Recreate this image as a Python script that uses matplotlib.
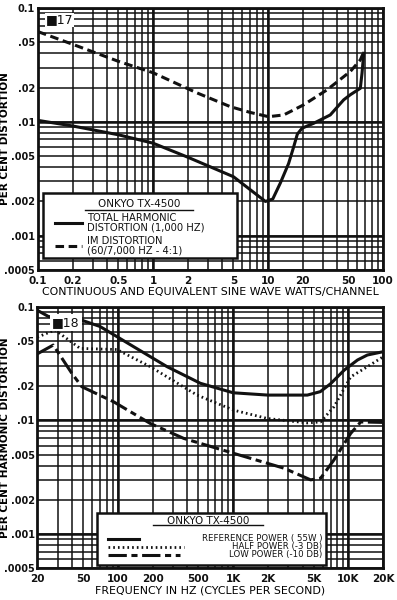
import numpy as np
import matplotlib
matplotlib.use('Agg')
import matplotlib.pyplot as plt
from matplotlib.ticker import LogLocator, FixedLocator, FixedFormatter, NullFormatter
from matplotlib.lines import Line2D
from matplotlib.patches import Rectangle

# Fig. 17: distortion vs power output (watts/channel)
thd_watts = [0.1, 0.2, 0.5, 1, 2, 5, 9.5, 11, 12.8, 15.1, 16.7, 18, 19.8, 24.9, 34.8, 45.5, 52, 63.5, 65.7, 68]
thd_pct = [0.0103, 0.0092, 0.0077, 0.0065, 0.0049, 0.0033, 0.0020, 0.0021, 0.0029, 0.0043, 0.0060, 0.0078, 0.0088,
           0.0097, 0.0115, 0.0156, 0.0173, 0.0197, 0.0267, 0.040]
imd_watts = [0.1, 0.2, 0.5, 1, 2.4, 4.7, 7, 10.1, 13.7, 20.4, 32.6, 52, 63.5, 68]
imd_pct = [0.062, 0.048, 0.034, 0.027, 0.018, 0.0136, 0.0121, 0.0111, 0.0115, 0.0141, 0.0191, 0.0277, 0.035, 0.041]

# Fig. 18: harmonic distortion vs frequency
ref_hz = [20, 25, 47, 70, 137, 267, 520, 1000, 2000, 4400, 5700, 7000, 9200, 12000, 14600, 20000]
ref_pct = [0.093, 0.082, 0.077, 0.067, 0.0445, 0.0297, 0.0212, 0.0175, 0.0167, 0.0167, 0.0179, 0.021, 0.0277,
           0.034, 0.0376, 0.0402]
half_hz = [20, 28.5, 47, 98, 191, 486, 1012, 1977, 4406, 5743, 7500, 10484, 14630, 20000]
half_pct = [0.054, 0.0624, 0.043, 0.042, 0.0297, 0.0167, 0.0123, 0.0104, 0.0095, 0.0097, 0.0132, 0.0242, 0.0297, 0.0363]
low_hz = [20, 27.5, 39.8, 48.6, 91.6, 191, 372, 1012, 2755, 4700, 5743, 7500, 10484, 12800, 20000]
low_pct = [0.0385, 0.046, 0.026, 0.0198, 0.0146, 0.0094, 0.00695, 0.00513, 0.0038, 0.0030, 0.0031, 0.0045, 0.0077,
           0.0097, 0.0096]

y_ticks = [0.0005, 0.001, 0.002, 0.005, 0.01, 0.02, 0.05, 0.1]
y_ticklabels = ['.0005', '.001', '.002', '.005', '.01', '.02', '.05', '0.1']
watt_ticks = [0.1, 0.2, 0.5, 1, 2, 5, 10, 20, 50, 100]
watt_ticklabels = ['0.1', '0.2', '0.5', '1', '2', '5', '10', '20', '50', '100']
hz_ticks = [20, 50, 100, 200, 500, 1000, 2000, 5000, 10000, 20000]
hz_ticklabels = ['20', '50', '100', '200', '500', '1K', '2K', '5K', '10K', '20K']

plt.rcParams['font.family'] = ['DejaVu Sans']
INK = '#111111'


def style_axes(ax, xlim, xticks, xlabels):
    ax.set_xscale('log')
    ax.set_yscale('log')
    ax.set_xlim(*xlim)
    ax.set_ylim(0.0005, 0.1)
    ax.xaxis.set_major_locator(FixedLocator(xticks))
    ax.xaxis.set_major_formatter(FixedFormatter(xlabels))
    ax.yaxis.set_major_locator(FixedLocator(y_ticks))
    ax.yaxis.set_major_formatter(FixedFormatter(y_ticklabels))
    ax.xaxis.set_minor_locator(LogLocator(base=10, subs=np.arange(1, 10), numticks=50))
    ax.yaxis.set_minor_locator(LogLocator(base=10, subs=np.arange(1, 10), numticks=50))
    ax.xaxis.set_minor_formatter(NullFormatter())
    ax.yaxis.set_minor_formatter(NullFormatter())
    ax.grid(which='both', color=INK, linewidth=1.1)
    # decade lines heavier
    for d in [1e-3, 1e-2, 1e-1]:
        ax.axhline(d, color=INK, linewidth=1.8, zorder=1)
    ax.tick_params(which='both', length=0, colors=INK)
    ax.tick_params(axis='x', pad=4, labelsize=7.5)
    ax.tick_params(axis='y', pad=2, labelsize=7)
    for lab in ax.get_xticklabels() + ax.get_yticklabels():
        lab.set_fontweight('bold')
    for sp in ax.spines.values():
        sp.set_linewidth(2.0)
        sp.set_color(INK)
    ax.set_axisbelow(True)


def legend_line(ax, x0, x1, y, **kw):
    ax.add_line(Line2D([x0, x1], [y, y], transform=ax.transAxes, color=INK, zorder=6, **kw))


fig = plt.figure(figsize=(3.97, 6.0), dpi=100)
ax1 = fig.add_axes([0.0957, 0.55, 0.869, 0.4367])
ax2 = fig.add_axes([0.094, 0.0528, 0.871, 0.436])

# ---- Fig 17 ----
style_axes(ax1, (0.1, 100), watt_ticks, watt_ticklabels)
for d in [1, 10]:
    ax1.axvline(d, color=INK, linewidth=1.8, zorder=1)
ax1.plot(thd_watts, thd_pct, color=INK, linewidth=2.2, zorder=4)
ax1.plot(imd_watts, imd_pct, color=INK, linewidth=2.2, dashes=(2.8, 1.5), zorder=4)
ax1.set_ylabel('PER CENT DISTORTION', fontsize=7.5, fontweight='bold')
ax1.yaxis.set_label_coords(-0.081, 0.5)
ax1.set_xlabel('CONTINUOUS AND EQUIVALENT SINE WAVE WATTS/CHANNEL', fontsize=7.9, labelpad=1)
ax1.text(0.022, 0.955, '\u25a017', transform=ax1.transAxes, fontsize=9, color=INK, va='center', ha='left',
         bbox=dict(facecolor='white', edgecolor='none', pad=0.5), zorder=6)

ax1.add_patch(Rectangle((0.0145, 0.046), 0.5625, 0.248, transform=ax1.transAxes, facecolor='white',
                        edgecolor=INK, linewidth=1.8, zorder=5))
ax1.text(0.293, 0.252, 'ONKYO TX-4500', transform=ax1.transAxes, fontsize=7.5, ha='center', va='center',
         color=INK, zorder=6)
legend_line(ax1, 0.136, 0.449, 0.229, linewidth=1.0)
legend_line(ax1, 0.049, 0.128, 0.179, linewidth=2.2)
ax1.text(0.142, 0.179, 'TOTAL HARMONIC\nDISTORTION (1,000 HZ)', transform=ax1.transAxes, fontsize=7.2,
         ha='left', va='center', linespacing=0.95, color=INK, zorder=6)
legend_line(ax1, 0.049, 0.128, 0.093, linewidth=2.2, dashes=(2.8, 1.5))
ax1.text(0.142, 0.094, 'IM DISTORTION\n(60/7,000 HZ - 4:1)', transform=ax1.transAxes, fontsize=7.2,
         ha='left', va='center', linespacing=0.95, color=INK, zorder=6)

# ---- Fig 18 ----
style_axes(ax2, (20, 20000), hz_ticks, hz_ticklabels)
for d in [100, 1000, 10000]:
    ax2.axvline(d, color=INK, linewidth=1.8, zorder=1)
ax2.plot(ref_hz, ref_pct, color=INK, linewidth=2.2, zorder=4)
ax2.plot(half_hz, half_pct, color=INK, linewidth=2.0, dashes=(0.6, 1.1), zorder=4)
ax2.plot(low_hz, low_pct, color=INK, linewidth=2.2, dashes=(6, 1.5, 2, 1.5), zorder=4)
ax2.set_ylabel('PER CENT HARMONIC DISTORTION', fontsize=7.5, fontweight='bold')
ax2.yaxis.set_label_coords(-0.079, 0.5)
ax2.set_xlabel('FREQUENCY IN HZ (CYCLES PER SECOND)', fontsize=7.9, labelpad=1)
ax2.text(0.042, 0.94, '\u25a018', transform=ax2.transAxes, fontsize=9, color=INK, va='center', ha='left',
         bbox=dict(facecolor='white', edgecolor='none', pad=1.5), zorder=6)

ax2.add_patch(Rectangle((0.172, 0.0126), 0.663, 0.198, transform=ax2.transAxes, facecolor='white',
                        edgecolor=INK, linewidth=1.8, zorder=5))
ax2.text(0.494, 0.182, 'ONKYO TX-4500', transform=ax2.transAxes, fontsize=7.5, ha='center', va='center',
         color=INK, zorder=6)
legend_line(ax2, 0.335, 0.653, 0.1655, linewidth=1.0)
legend_line(ax2, 0.2045, 0.294, 0.112, linewidth=2.2)
legend_line(ax2, 0.2045, 0.424, 0.0826, linewidth=2.0, dashes=(0.6, 1.1))
legend_line(ax2, 0.2045, 0.412, 0.051, linewidth=2.2, dashes=(6, 1.5, 2, 1.5))
ax2.text(0.8235, 0.082, 'REFERENCE POWER ( 55W )\nHALF POWER (-3 DB)\nLOW POWER (-10 DB)',
         transform=ax2.transAxes, fontsize=6.2, ha='right', va='center', multialignment='right',
         linespacing=0.84, color=INK, zorder=6)

fig.savefig('out.png', dpi=100, facecolor='white')
